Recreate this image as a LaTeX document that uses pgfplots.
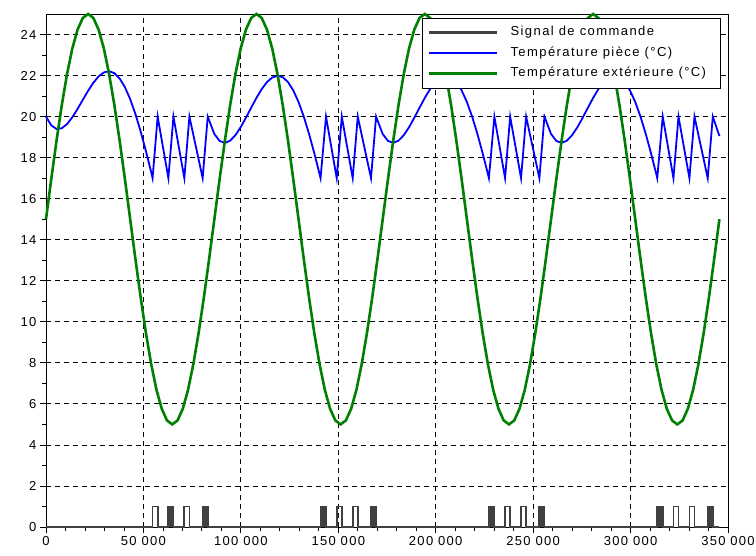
\documentclass[border=0pt]{standalone}
\usepackage{fontspec}
\setmainfont{Liberation Sans}[LetterSpace=10]
\newfontfamily\legfont{Liberation Sans}[LetterSpace=11]
\usepackage{pgfplots}
\pgfplotsset{compat=1.18}
\definecolor{cmdgray}{RGB}{64,64,64}
\definecolor{scigreen}{RGB}{0,128,0}
\definecolor{sciblue}{RGB}{0,0,255}
\begin{document}
\begin{tikzpicture}
\begin{axis}[
  scale only axis, width=682pt, height=513pt,
  xmin=0, xmax=350000, ymin=0, ymax=25,
  clip=false,
  scaled x ticks=false, scaled y ticks=false,
  xtick={0,50000,100000,150000,200000,250000,300000,350000},
  xticklabels={0,50 000,100 000,150 000,200 000,250 000,300 000,350 000},
  ytick={0,2,4,6,8,10,12,14,16,18,20,22,24},
  yticklabels={0,2,4,6,8,10,12,14,16,18,20,22,24},
  minor x tick num=4, minor y tick num=1,
  tick pos=left, tick align=outside,
  major tick length=6pt, minor tick length=3.5pt,
  every tick/.style={black, line width=0.8pt},
  grid=major,
  major grid style={black, dash pattern=on 5pt off 4pt, line width=0.8pt},
  axis line style={black, line width=0.8pt},
  tick label style={font=\fontsize{13}{15}\selectfont},
  legend style={at={(1,1)}, xshift=-7pt, yshift=-4pt, anchor=north east,
    draw=black, line width=0.8pt, fill=white,
    font=\legfont\fontsize{13}{15}\selectfont,
    inner xsep=5.5pt, inner ysep=6pt, row sep=4pt,
    nodes={text height=9.5pt, text depth=3pt, inner sep=2pt},
    /tikz/every odd column/.append style={column sep=10pt}},
  legend cell align=left,
  legend image code/.code={\draw[#1, line width=2.4pt] (0pt,0pt) -- (68pt,0pt);},
]
% command signal
\addplot[const plot, cmdgray, line width=1.8pt] coordinates {
(0,0)
(54700,1) (57300,0)
(62800,1) (63670,0) (63670,1) (64530,0) (64530,1) (65400,0)
(71000,1) (73600,0)
(80400,1) (81270,0) (81270,1) (82130,0) (82130,1) (83000,0)
(140900,1) (141830,0) (141830,1) (142770,0) (142770,1) (143700,0)
(149200,1) (151800,0)
(157400,1) (160000,0)
(166800,1) (167670,0) (167670,1) (168530,0) (168530,1) (169400,0)
(227300,1) (228230,0) (228230,1) (229170,0) (229170,1) (230100,0)
(235600,1) (238200,0)
(243800,1) (246400,0)
(253200,1) (254070,0) (254070,1) (254930,0) (254930,1) (255800,0)
(313700,1) (314630,0) (314630,1) (315570,0) (315570,1) (316500,0)
(322000,1) (324600,0)
(330200,1) (332800,0)
(339600,1) (340470,0) (340470,1) (341330,0) (341330,1) (342200,0)
(345600,0)
};
\addlegendentry{Signal de commande}
% room temperature
\addplot[sciblue, line width=1.8pt] coordinates {
(0,20.000) (2700,19.574) (5400,19.397) (8100,19.433) (10800,19.635)
(13500,19.966) (16200,20.374) (18900,20.820) (21600,21.258) (24300,21.648)
(27000,21.958) (29700,22.153) (32400,22.212) (35100,22.117) (37800,21.859)
(40500,21.435) (43200,20.852) (45900,20.124) (48600,19.268) (51300,18.312)
(54000,17.285) (54700,17)
(57300,20) (62800,17) (65400,20) (71000,17) (73600,20) (80400,17) (83000,20)
(86400,19.151) (89100,18.815) (91800,18.719) (94500,18.827) (97200,19.094)
(99900,19.482) (102600,19.942) (105300,20.434) (108000,20.912) (110700,21.340)
(113400,21.682) (116100,21.906) (118800,21.992) (121500,21.920) (124200,21.683)
(126900,21.278) (129600,20.712) (132300,19.998) (135000,19.156) (137700,18.212)
(140400,17.195) (140900,17)
(143700,20) (149200,17) (151800,20) (157400,17) (160000,20) (166800,17) (169400,20)
(172800,19.151) (175500,18.815) (178200,18.719) (180900,18.827) (183600,19.094)
(186300,19.482) (189000,19.942) (191700,20.434) (194400,20.912) (197100,21.340)
(199800,21.682) (202500,21.906) (205200,21.992) (207900,21.920) (210600,21.683)
(213300,21.278) (216000,20.712) (218700,19.998) (221400,19.156) (224100,18.212)
(226800,17.195) (227300,17)
(230100,20) (235600,17) (238200,20) (243800,17) (246400,20) (253200,17) (255800,20)
(259200,19.151) (261900,18.815) (264600,18.719) (267300,18.827) (270000,19.094)
(272700,19.482) (275400,19.942) (278100,20.434) (280800,20.912) (283500,21.340)
(286200,21.682) (288900,21.906) (291600,21.992) (294300,21.920) (297000,21.683)
(299700,21.278) (302400,20.712) (305100,19.998) (307800,19.156) (310500,18.212)
(313200,17.195) (313700,17)
(316500,20) (322000,17) (324600,20) (330200,17) (332800,20) (339600,17) (342200,20)
(345600,19.05)
};
\addlegendentry{Température pièce (°C)}
% outside temperature
\addplot[scigreen, line width=2.6pt] coordinates {
(0,15) (2700,16.951) (5400,18.827) (8100,20.556) (10800,22.071) (13500,23.315) (16200,24.239) (18900,24.808)
(21600,25) (24300,24.808) (27000,24.239) (29700,23.315) (32400,22.071) (35100,20.556) (37800,18.827) (40500,16.951)
(43200,15) (45900,13.049) (48600,11.173) (51300,9.444) (54000,7.929) (56700,6.685) (59400,5.761) (62100,5.192)
(64800,5) (67500,5.192) (70200,5.761) (72900,6.685) (75600,7.929) (78300,9.444) (81000,11.173) (83700,13.049)
(86400,15) (89100,16.951) (91800,18.827) (94500,20.556) (97200,22.071) (99900,23.315) (102600,24.239) (105300,24.808)
(108000,25) (110700,24.808) (113400,24.239) (116100,23.315) (118800,22.071) (121500,20.556) (124200,18.827) (126900,16.951)
(129600,15) (132300,13.049) (135000,11.173) (137700,9.444) (140400,7.929) (143100,6.685) (145800,5.761) (148500,5.192)
(151200,5) (153900,5.192) (156600,5.761) (159300,6.685) (162000,7.929) (164700,9.444) (167400,11.173) (170100,13.049)
(172800,15) (175500,16.951) (178200,18.827) (180900,20.556) (183600,22.071) (186300,23.315) (189000,24.239) (191700,24.808)
(194400,25) (197100,24.808) (199800,24.239) (202500,23.315) (205200,22.071) (207900,20.556) (210600,18.827) (213300,16.951)
(216000,15) (218700,13.049) (221400,11.173) (224100,9.444) (226800,7.929) (229500,6.685) (232200,5.761) (234900,5.192)
(237600,5) (240300,5.192) (243000,5.761) (245700,6.685) (248400,7.929) (251100,9.444) (253800,11.173) (256500,13.049)
(259200,15) (261900,16.951) (264600,18.827) (267300,20.556) (270000,22.071) (272700,23.315) (275400,24.239) (278100,24.808)
(280800,25) (283500,24.808) (286200,24.239) (288900,23.315) (291600,22.071) (294300,20.556) (297000,18.827) (299700,16.951)
(302400,15) (305100,13.049) (307800,11.173) (310500,9.444) (313200,7.929) (315900,6.685) (318600,5.761) (321300,5.192)
(324000,5) (326700,5.192) (329400,5.761) (332100,6.685) (334800,7.929) (337500,9.444) (340200,11.173) (342900,13.049)
(345600,15)
};
\addlegendentry{Température extérieure (°C)\rule{7pt}{0pt}}
\end{axis}
\pgfresetboundingbox
\path (current axis.south west) ++(-46pt,-28pt) rectangle ++(756pt,555pt);
\end{tikzpicture}
\end{document}
